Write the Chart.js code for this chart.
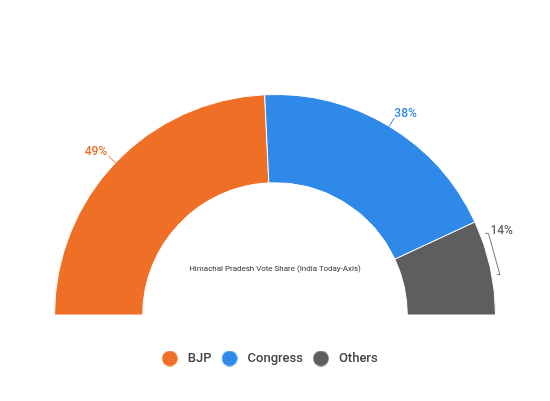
<!DOCTYPE html>
<html>
<head>
<meta charset="utf-8">
<script src="https://cdn.jsdelivr.net/npm/chart.js@4.4.0/dist/chart.umd.min.js"></script>
<style>
  html, body { margin: 0; padding: 0; background: #fff; }
  #wrap { width: 550px; height: 401px; position: relative; }
</style>
</head>
<body>
<div id="wrap"><canvas id="chart"></canvas></div>
<script>
const parties = ["BJP", "Congress", "Others"];
const voteShare = [49, 38, 14];
const partyColors = ["#ee6f25", "#2e89e9", "#5e5e5e"];
const chartTitle = "Himachal Pradesh Vote Share (India Today-Axis)";

// little round marker images for the legend
function dot(color) {
    const c = document.createElement('canvas');
    c.width = 16; c.height = 16;
    const g = c.getContext('2d');
    g.fillStyle = color;
    g.beginPath();
    g.arc(8, 8, 7.8, 0, Math.PI * 2);
    g.fill();
    return c;
}
const legendDots = partyColors.map(dot);

// labels with leader lines outside the arcs, plus the title inside the hole
const outsideLabels = {
    id: 'outsideLabels',
    afterLayout(chart) {
        // legend sits a bit left of centre in the original
        const lg = chart.legend;
        lg.left -= 7; lg.right -= 7;
        lg.top += 2; lg.bottom += 2;
    },
    afterDatasetsDraw(chart) {
        const ctx = chart.ctx;
        const arcs = chart.getDatasetMeta(0).data;
        ctx.save();
        ctx.font = '500 12px Roboto';
        ctx.lineWidth = 1;
        arcs.forEach((arc, i) => {
            const { x, y, startAngle, endAngle, outerRadius } = arc.getProps(['x', 'y', 'startAngle', 'endAngle', 'outerRadius'], true);
            const color = partyColors[i];
            const text = voteShare[i] + '%';
            ctx.strokeStyle = color;
            ctx.fillStyle = color;
            const mid = (startAngle + endAngle) / 2;
            if (endAngle - startAngle < Math.PI / 6) {
                // small slice: bracket beside the arc
                const r = outerRadius + 8;
                const a1 = startAngle + 0.07;
                const a2 = mid + 0.04;
                const p1 = [x + r * Math.cos(a1), y + r * Math.sin(a1)];
                const p2 = [x + r * Math.cos(a2), y + r * Math.sin(a2)];
                ctx.strokeStyle = '#777';
                ctx.beginPath();
                ctx.moveTo(p1[0] - 3, p1[1]);
                ctx.lineTo(p1[0], p1[1]);
                ctx.lineTo(p2[0], p2[1]);
                ctx.lineTo(p2[0] - 3, p2[1]);
                ctx.stroke();
                ctx.fillStyle = '#666';
                ctx.textAlign = 'left';
                ctx.textBaseline = 'middle';
                ctx.fillText(text, p1[0] + 2, p1[1] - 2);
            } else {
                const cos = Math.cos(mid), sin = Math.sin(mid);
                const sx = x + outerRadius * cos, sy = y + outerRadius * sin;
                const ex = x + (outerRadius + 10) * cos, ey = y + (outerRadius + 10) * sin;
                ctx.beginPath();
                ctx.moveTo(sx, sy);
                ctx.lineTo(ex, ey);
                ctx.stroke();
                ctx.textAlign = cos < 0 ? 'right' : 'left';
                ctx.textBaseline = 'middle';
                ctx.fillText(text, ex + (cos < 0 ? -1 : 0), ey - 4);
            }
        });
        const a0 = arcs[0];
        ctx.font = '8px Roboto';
        ctx.fillStyle = '#333';
        ctx.textAlign = 'center';
        ctx.textBaseline = 'middle';
        ctx.fillText(chartTitle, a0.x, a0.y - 46);
        ctx.restore();
    }
};

const baseLabels = Chart.overrides.doughnut.plugins.legend.labels.generateLabels;

new Chart(document.getElementById('chart'), {
    type: 'doughnut',
    data: {
        labels: parties,
        datasets: [{
            data: voteShare,
            backgroundColor: partyColors,
            borderColor: '#fff',
            borderWidth: 1,
            hoverOffset: 0
        }]
    },
    options: {
        responsive: true,
        maintainAspectRatio: false,
        animation: false,
        rotation: -90,
        circumference: 180,
        cutout: '60%',
        layout: { padding: { top: 66, bottom: 28, left: 54, right: 54 } },
        plugins: {
            legend: {
                position: 'bottom',
                labels: {
                    usePointStyle: true,
                    pointStyleWidth: 23,
                    padding: 6.5,
                    color: '#444',
                    font: { family: 'Roboto', size: 13, weight: '500' },
                    generateLabels(chart) {
                        return baseLabels(chart).map((item, i) => {
                            item.pointStyle = legendDots[i];
                            return item;
                        });
                    }
                }
            },
            tooltip: { enabled: false }
        }
    },
    plugins: [outsideLabels]
});
</script>
</body>
</html>
